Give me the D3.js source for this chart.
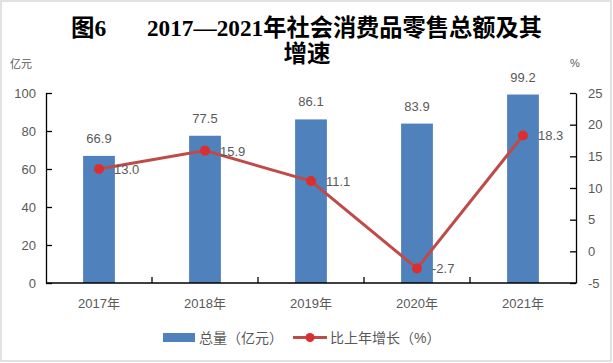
<!DOCTYPE html>
<html><head><meta charset="utf-8">
<script src="https://cdn.jsdelivr.net/npm/d3@7"></script>
<style>
html,body{margin:0;padding:0;background:#fff;}
svg{display:block;}
</style></head>
<body>
<svg id="c" width="613" height="363"></svg>
<script>
const categories = ["2017年","2018年","2019年","2020年","2021年"];
const totals = [66.9, 77.5, 86.1, 83.9, 99.2];
const growth = [13.0, 15.9, 11.1, -2.7, 18.3];
const leftTicks = [0,20,40,60,80,100];
const rightTicks = [-5,0,5,10,15,20,25];

const svg = d3.select("#c");
const L = 46, R = 576, T = 93, B = 283;
const grey = "#595959";
const sans = "'Liberation Sans','Noto Sans CJK SC',sans-serif";

svg.append("rect").attr("x",1).attr("y",1).attr("width",610).attr("height",360)
  .attr("fill","#fff").attr("stroke","#d9d9d9").attr("stroke-width",1.5);

// title
const title = svg.append("text").attr("font-family","'Liberation Serif','Noto Sans CJK SC',serif")
  .attr("font-weight","bold").attr("font-size",23.5).attr("fill","#000");
title.append("tspan").attr("x",71).attr("y",36).text("图6");
title.append("tspan").attr("x",147).attr("y",36).attr("textLength",395).attr("lengthAdjust","spacingAndGlyphs")
  .text("2017—2021年社会消费品零售总额及其");
svg.append("text").attr("font-family","'Liberation Serif','Noto Sans CJK SC',serif")
  .attr("font-weight","bold").attr("font-size",23.5).attr("text-anchor","middle")
  .attr("x",307).attr("y",62).text("增速");

// unit labels
svg.append("text").attr("x",10).attr("y",68).attr("font-size",11).attr("font-family",sans)
  .attr("fill",grey).text("亿元");
svg.append("text").attr("x",570).attr("y",67).attr("font-size",11).attr("font-family",sans)
  .attr("fill",grey).text("%");

const x = d3.scaleBand().domain(categories).range([L,R]).paddingInner(0.7).paddingOuter(0.35);
const yL = d3.scaleLinear().domain([0,100]).range([B,T]);
const yR = d3.scaleLinear().domain([-5,25]).range([B,T]);
const cx = d => x(d) + x.bandwidth()/2;

// bars
svg.append("g").selectAll("rect").data(totals).join("rect")
  .attr("x",(d,i)=>x(categories[i])).attr("width",x.bandwidth())
  .attr("y",d=>yL(d)).attr("height",d=>B-yL(d)).attr("fill","#4F81BD");

// bar labels
svg.append("g").selectAll("text").data(totals).join("text")
  .attr("x",(d,i)=>cx(categories[i])).attr("y",d=>yL(d)-13)
  .attr("text-anchor","middle").attr("font-size",13).attr("font-family",sans).attr("fill",grey)
  .text(d=>d.toFixed(1));

// axes
const fmt = d => String(d);
const axL = d3.axisLeft(yL).tickValues(leftTicks).tickFormat(fmt).tickSize(-6).tickPadding(10).tickSizeOuter(0);
const gL = svg.append("g").attr("transform",`translate(${L},0)`).call(axL);
const axR = d3.axisRight(yR).tickValues(rightTicks).tickFormat(fmt).tickSize(-6).tickPadding(12).tickSizeOuter(0);
const gR = svg.append("g").attr("transform",`translate(${R},0)`).call(axR);
[gL,gR].forEach(g=>{
  g.selectAll("path").attr("stroke","#000").attr("stroke-width",1.3);
  g.selectAll("line").attr("stroke","#000").attr("stroke-width",1.3);
  g.selectAll("text").attr("font-size",13).attr("font-family",sans).attr("fill",grey);
});

// bottom axis
const gB = svg.append("g");
gB.append("line").attr("x1",L).attr("x2",R).attr("y1",B).attr("y2",B)
  .attr("stroke","#000").attr("stroke-width",1.3);
gB.selectAll("line.t").data(categories.slice(0,-1)).join("line").attr("class","t")
  .attr("x1",d=>cx(d)+x.step()/2).attr("x2",d=>cx(d)+x.step()/2)
  .attr("y1",B).attr("y2",B-6).attr("stroke","#000").attr("stroke-width",1.3);
gB.selectAll("text").data(categories).join("text")
  .attr("x",d=>cx(d)).attr("y",308).attr("text-anchor","middle")
  .attr("font-size",13).attr("font-family",sans).attr("fill",grey).text(d=>d);

// line
const line = d3.line().x((d,i)=>cx(categories[i])).y(d=>yR(d));
svg.append("path").datum(growth).attr("d",line).attr("fill","none")
  .attr("stroke","#BE4B48").attr("stroke-width",3);
svg.append("g").selectAll("circle").data(growth).join("circle")
  .attr("cx",(d,i)=>cx(categories[i])).attr("cy",d=>yR(d)).attr("r",5)
  .attr("fill","#D9302F");
svg.append("g").selectAll("text").data(growth).join("text")
  .attr("x",(d,i)=>cx(categories[i])+15).attr("y",d=>yR(d)+5)
  .attr("font-size",13).attr("font-family",sans).attr("fill",grey)
  .text(d=>d.toFixed(1));

// legend
svg.append("rect").attr("x",163).attr("y",333).attr("width",32).attr("height",9).attr("fill","#4F81BD");
svg.append("text").attr("x",199).attr("y",343).attr("font-size",14).attr("font-family",sans)
  .attr("fill",grey).text("总量（亿元）");
svg.append("line").attr("x1",293).attr("x2",327).attr("y1",337.5).attr("y2",337.5)
  .attr("stroke","#BE4B48").attr("stroke-width",3);
svg.append("circle").attr("cx",310).attr("cy",337.5).attr("r",4.5).attr("fill","#D9302F");
svg.append("text").attr("x",330).attr("y",343).attr("font-size",14).attr("font-family",sans)
  .attr("fill",grey).text("比上年增长（%）");
</script>
</body></html>
